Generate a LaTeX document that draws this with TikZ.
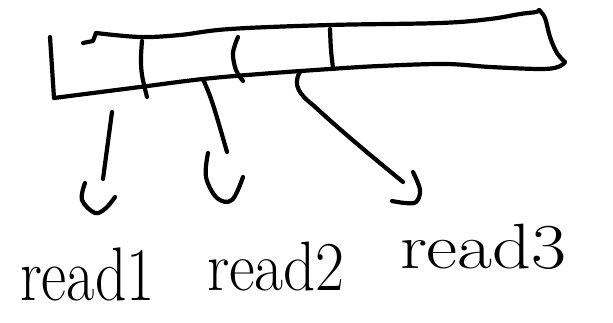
\documentclass[tikz,border=0pt]{standalone}
\tikzset{
  pen/.style={line width=4.2pt, line cap=round, line join=round},
  lbl/.style={anchor=base west, inner sep=0pt, outer sep=0pt},
}
\begin{document}
\begin{tikzpicture}[x=1pt,y=-1pt]
\useasboundingbox[fill=white] (0,0) rectangle (613,323);
% ---- the bar ----
\draw[pen] (83,43) -- (93,41) -- (96,33);
\draw[pen] plot[smooth, tension=0.6] coordinates {(96,33) (140,37) (180,35) (230,29) (330,25) (440,23) (490,19) (520,14) (536,12) (539,10)};
\draw[pen] plot[smooth, tension=0.6] coordinates {(539,10) (545,18) (550,37) (557,53) (565,62)};
\draw[pen] plot[smooth, tension=0.6] coordinates {(565,62) (558,67) (540,69) (490,67) (445,64) (380,66) (330,69) (260,74) (203,79) (140,87) (54,98)};
\draw[pen] (50,37) -- (54,98);
% dividers
\draw[pen] plot[smooth, tension=0.6] coordinates {(142,41) (141,58) (142,75) (147,97)};
\draw[pen] plot[smooth, tension=0.6] coordinates {(238,37) (233,53) (236,70) (243,81)};
\draw[pen] plot[smooth, tension=0.6] coordinates {(330,29) (331,50) (333,68)};
% ---- labels ----
\node[lbl] (r1) at (20,300) {\fontsize{76}{76}\selectfont\scalebox{0.81}[1]{read1}};
\node[lbl] (r2) at (207,290) {\fontsize{70}{70}\selectfont\scalebox{0.9}[1]{read2}};
\node[lbl] (r3) at (400,268) {\fontsize{64}{64}\selectfont\scalebox{1.19}[1]{read3}};
% ---- arrows ----
\coordinate (s1) at (112,112);
\coordinate (e1) at (103,179);
\draw[pen] (s1) -- (e1);
\draw[pen] plot[smooth, tension=0.6] coordinates {(85,183) (82,200) (95,213) (106,208) (115,197)};
\coordinate (s2) at (203,79);
\coordinate (e2) at (227,152);
\draw[pen] (s2) .. controls (212,100) .. (e2);
\draw[pen] plot[smooth, tension=0.6] coordinates {(208,153) (206,177) (217,198) (232,200) (243,177)};
\coordinate (s3) at (300,72);
\coordinate (e3) at (403,182);
\draw[pen] (s3) .. controls (292,85) and (300,95) .. (313,105) .. controls (340,130) and (370,155) .. (e3);
\draw[pen] plot[smooth, tension=0.6] coordinates {(413,172) (420,190) (416,202) (405,203) (392,201)};
\end{tikzpicture}
\end{document}
